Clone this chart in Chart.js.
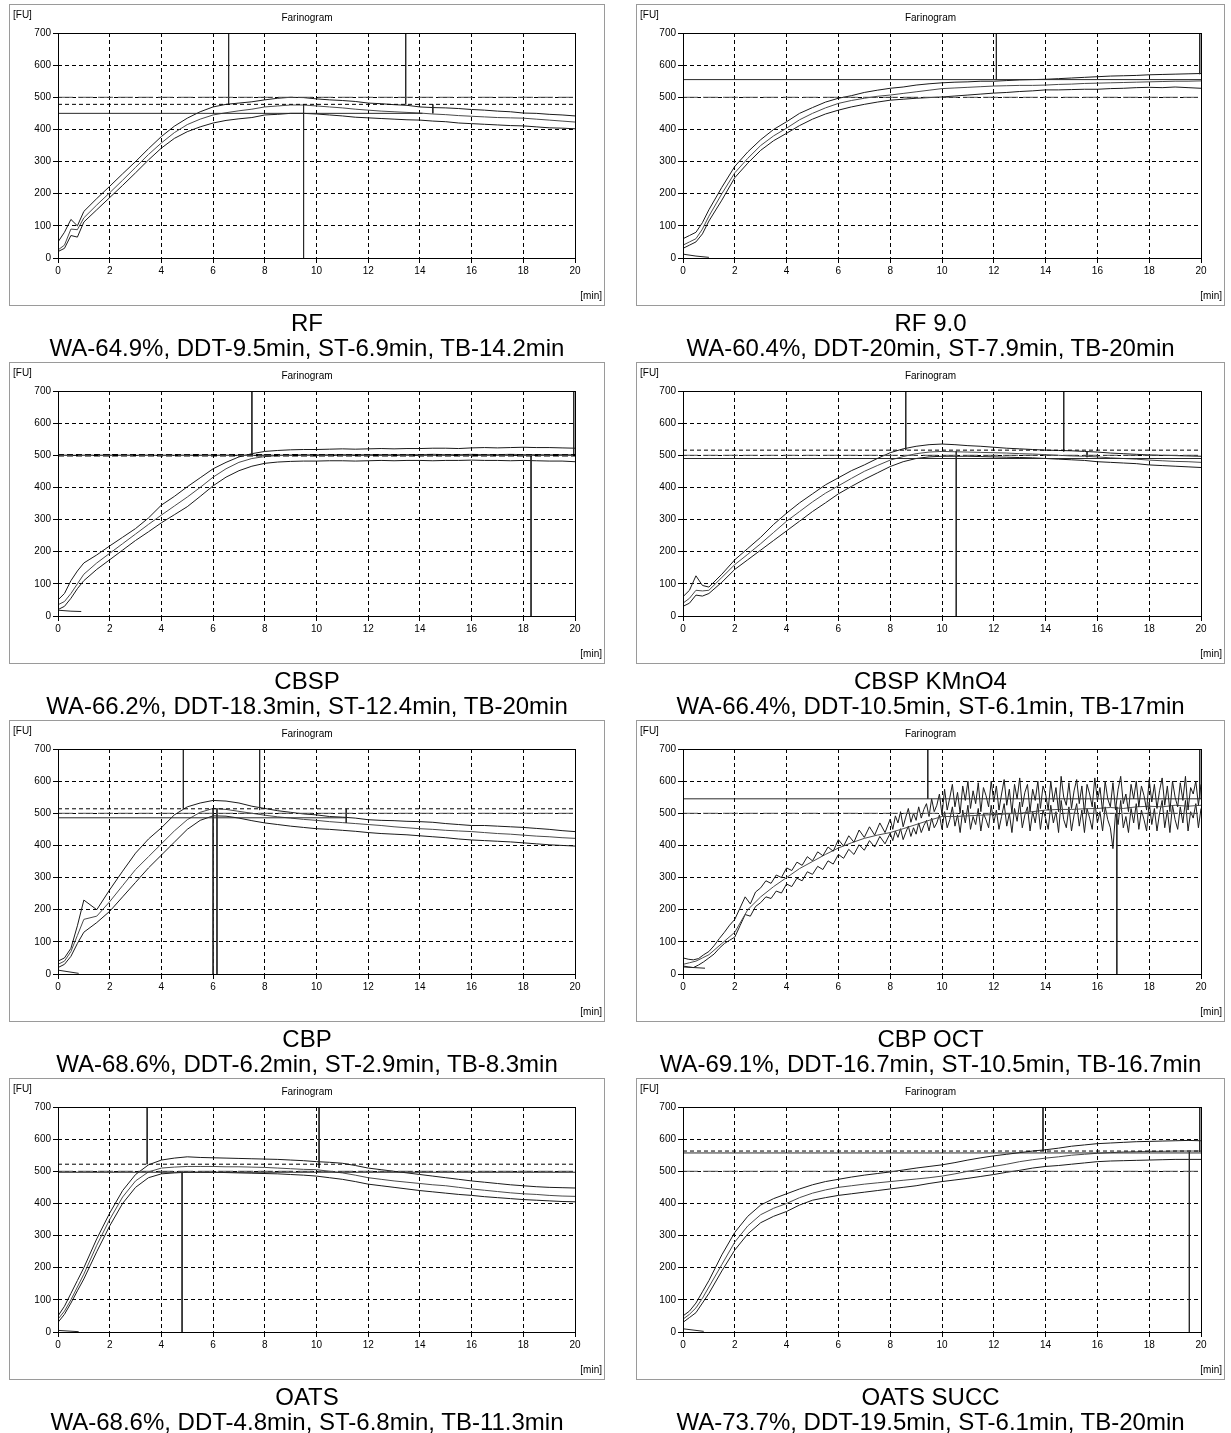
<!DOCTYPE html>
<html>
<head>
<meta charset="utf-8">
<title>Farinograms</title>
<script src="https://cdn.jsdelivr.net/npm/chart.js@4.4.1/dist/chart.umd.min.js"></script>
<style>
  body { margin: 0; background: #fff; width: 1231px; height: 1433px; position: relative; overflow: hidden;
         font-family: "Liberation Sans", Arial, sans-serif; color: #000; }
  .frame { position: absolute; border: 1px solid #9a9a9a; box-sizing: border-box; }
  .plot { position: absolute; }
  .small { position: absolute; font-size: 10px; line-height: 12px; white-space: nowrap; }
  .caption { position: absolute; text-align: center; font-size: 24px; line-height: 25px; white-space: nowrap; }
</style>
</head>
<body>
<script>
// sampling times (min) shared by most curves
const minutes = [0,0.25,0.5,0.75,1,1.5,2,2.5,3,3.5,4,4.5,5,5.5,6,6.5,7,7.5,8,8.5,9,9.5,10,10.5,11,11.5,12,12.5,13,13.5,14,14.5,15,15.5,16,16.5,17,17.5,18,18.5,19,19.5,20];
// denser times for the very noisy CBP OCT band
const octMinutes = [0,0.2,0.4,0.6,0.8,1,1.2,1.4,1.6,1.8,2,2.2,2.4,2.6,2.8,3,3.2,3.4,3.6,3.8,4,4.2,4.4,4.6,4.8,5,5.2,5.4,5.6,5.8,6,6.2,6.4,6.6,6.8,7,7.2,7.4,7.6,7.8,8,
  8.1,8.2,8.3,8.4,8.5,8.6,8.7,8.8,8.9,9,9.1,9.2,9.3,9.4,9.5,9.6,9.7,9.8,9.9,10,
  10.1,10.2,10.3,10.4,10.5,10.6,10.7,10.8,10.9,11,11.1,11.2,11.3,11.4,11.5,11.6,11.7,11.8,11.9,12,
  12.1,12.2,12.3,12.4,12.5,12.6,12.7,12.8,12.9,13,13.1,13.2,13.3,13.4,13.5,13.6,13.7,13.8,13.9,14,
  14.1,14.2,14.3,14.4,14.5,14.6,14.7,14.8,14.9,15,15.1,15.2,15.3,15.4,15.5,15.6,15.7,15.8,15.9,16,
  16.1,16.2,16.3,16.4,16.5,16.6,16.7,16.8,16.9,17,17.1,17.2,17.3,17.4,17.5,17.6,17.7,17.8,17.9,18,
  18.1,18.2,18.3,18.4,18.5,18.6,18.7,18.8,18.9,19,19.1,19.2,19.3,19.4,19.5,19.6,19.7,19.8,19.9,20];

const yTicks = [0,100,200,300,400,500,600,700];
const xTicks = [0,2,4,6,8,10,12,14,16,18,20];
const consistencyLine = 500;

// RF
const rfUpper = [50,80,120,100,145,185,223,262,300,340,378,410,435,455,470,478,482,486,492,497,500,499,495,492,490,487,482,480,477,475,470,468,467,465,462,460,457,455,451,450,447,445,442];
const rfMid   = [25,40,90,88,125,165,203,242,282,322,358,390,415,432,445,452,458,463,470,473,476,476,473,470,467,463,460,457,455,453,451,448,446,443,441,439,437,436,435,432,429,426,423];
const rfLower = [20,30,70,65,112,150,188,226,265,305,342,372,393,408,420,428,433,437,445,447,450,450,448,445,442,438,436,434,432,430,429,426,424,420,418,416,414,412,411,408,405,404,402];
const rfMarks = [[0,450,14.1,450],[6.6,700,6.6,478],[13.45,700,13.45,478],[9.5,478,9.5,0],[14.5,478,14.5,450]];
const rfDash = [478];
const rfTail = [];

// RF 9.0
const rf9Upper = [60,70,80,110,150,220,285,330,368,400,424,450,468,485,497,505,515,522,528,532,538,542,545,547,548,550,550,552,554,555,556,558,560,562,564,566,567,568,570,571,572,573,574];
const rf9Mid   = [40,50,60,90,130,200,265,310,350,380,404,430,450,467,481,490,497,503,507,512,517,522,527,529,531,533,535,536,537,537,538,540,541,543,544,545,546,547,548,549,550,550,551];
const rf9Lower = [30,40,50,75,115,180,250,295,335,365,388,412,432,448,460,470,478,485,491,494,497,499,501,504,507,510,513,515,518,520,523,523,524,525,525,527,528,530,531,530,532,530,528];
const rf9Marks = [[0,555,20,555],[12.1,700,12.1,555],[19.95,700,19.95,572]];
const rf9Dash = [];
const rf9Tail = [[0,12],[0.5,6],[1,2]];

// CBSP
const cbspUpper = [50,70,110,140,165,190,218,245,272,305,345,372,402,430,458,478,495,505,512,515,517,518,518,519,520,519,520,521,520,521,521,522,522,521,523,524,523,524,525,524,524,523,522];
const cbspMid   = [35,45,70,100,130,165,195,225,255,285,314,342,370,400,432,458,478,490,496,499,500,501,501,501,502,501,502,502,501,502,502,503,502,502,503,502,502,503,502,502,501,502,501];
const cbspLower = [20,30,55,85,110,145,175,205,235,262,290,315,340,372,405,432,452,466,475,479,481,482,482,483,483,482,483,484,483,484,484,483,484,484,485,484,484,483,484,483,482,482,480];
const cbspMarks = [[0,500,20,500],[7.5,700,7.5,500],[18.3,500,18.3,0],[19.95,700,19.95,500]];
const cbspDash = [500];
const cbspTail = [[0,18],[0.5,15],[0.9,14]];

// CBSP KMnO4
const kmnUpper = [60,80,125,95,90,130,175,210,245,285,320,352,380,408,430,452,470,490,508,520,528,533,535,533,530,528,525,522,520,518,516,515,514,512,510,507,505,503,501,500,499,498,497];
const kmnMid   = [40,55,80,78,80,120,160,192,225,260,295,325,355,382,405,428,450,468,485,496,505,510,512,511,510,509,508,507,505,504,502,500,498,497,495,492,490,488,485,483,481,480,478];
const kmnLower = [30,40,65,62,70,105,145,175,205,235,265,295,325,352,380,403,425,445,465,480,490,495,497,497,497,496,495,494,493,492,490,488,486,484,480,478,476,474,470,468,466,464,462];
const kmnMarks = [[0,490,20,490],[8.6,700,8.6,516],[14.7,700,14.7,512],[10.55,512,10.55,0],[15.6,512,15.6,494]];
const kmnDash = [516];
const kmnTail = [];

// CBP
const cbpUpper = [40,50,80,150,230,200,262,320,376,420,455,495,520,532,540,538,532,522,515,508,503,498,495,490,488,485,480,478,477,475,474,472,468,465,462,462,460,458,456,453,450,446,443];
const cbpMid   = [30,40,70,120,170,180,225,275,325,365,405,445,480,503,515,512,506,500,494,489,485,481,478,474,471,468,465,462,458,455,452,450,447,445,443,440,437,435,432,429,427,424,422];
const cbpLower = [20,30,55,95,130,160,195,240,285,330,370,410,450,478,492,491,485,477,470,465,460,456,452,450,447,444,440,437,435,433,430,427,424,420,417,415,413,411,408,405,402,400,398];
const cbpMarks = [[0,486,11.15,486],[4.85,700,4.85,514],[6.0,514,6.0,0],[6.15,514,6.15,0],[7.8,700,7.8,510],[11.15,514,11.15,470]];
const cbpDash = [514];
const cbpTail = [[0,12],[0.8,2]];

// CBP OCT
const octUpper = [50,46,44,48,60,70,88,110,130,152,170,205,240,218,255,268,290,282,308,300,330,322,348,338,365,352,380,368,395,382,418,398,430,410,448,425,458,432,470,440,482,
  450,492,470,505,458,488,515,472,500,478,520,485,512,530,490,545,505,525,560,495,
  575,510,548,590,520,565,500,585,540,600,515,570,530,595,505,580,555,520,600,535,
  585,510,560,605,525,575,500,590,545,610,520,565,590,505,575,540,600,515,585,560,
  510,600,535,580,505,615,550,525,595,515,570,605,530,585,500,590,560,520,610,540,
  580,505,600,545,520,595,510,575,615,530,560,505,590,545,600,520,585,555,510,605,
  535,590,515,570,610,525,585,505,600,550,520,595,540,615,510,580,560,600,525,590];
const octMid   = [30,35,40,50,60,95,130,200,240,272,300,328,350,372,392,408,422,432,440,452,465,478,490,490,492,494,496,498,500,505,510,512,512,514,515,518,515,520,522,520,525,522,525];
const octLower = [25,22,20,28,38,50,62,80,95,105,115,150,185,180,210,222,240,235,258,252,280,272,298,290,318,310,335,325,352,342,372,360,388,372,402,385,415,395,428,405,438,
  415,445,425,452,418,440,460,428,455,435,470,440,462,478,445,485,455,470,495,450,
  505,455,480,520,460,495,440,510,470,525,450,490,465,515,445,500,480,455,525,470,
  510,450,490,530,460,500,440,515,475,535,455,495,520,445,505,470,530,450,510,485,
  450,525,470,505,440,540,480,455,520,445,495,530,460,510,440,515,485,450,535,470,
  505,445,520,480,455,390,500,465,540,455,490,440,515,470,530,450,510,480,445,535,
  465,515,445,500,540,455,510,440,525,480,450,520,470,540,445,505,485,530,455,515];
const octMarks = [[0,545,20,545],[9.45,700,9.45,545],[16.75,520,16.75,0],[19.95,700,19.95,545]];
const octDash = [];
const octTail = [[0,22],[0.85,18]];

// OATS
const oatsUpper = [50,80,120,160,200,290,370,440,490,520,535,541,545,543,542,541,540,539,538,537,535,533,530,528,525,518,510,505,500,495,490,485,480,475,470,466,462,458,455,452,450,449,448];
const oatsMid   = [40,65,100,140,180,270,350,420,470,498,510,513,515,515,515,514,514,513,512,510,508,506,505,500,495,488,480,475,470,466,462,458,455,450,445,441,437,433,430,428,425,423,422];
const oatsLower = [30,55,90,128,165,250,330,400,450,480,492,495,497,497,497,496,495,494,493,492,490,488,485,480,475,468,460,455,450,445,440,436,432,428,425,421,418,415,412,410,408,406,405];
const oatsMarks = [[0,497,20,497],[3.45,700,3.45,522],[10.1,700,10.1,510],[4.8,500,4.8,0]];
const oatsDash = [522];
const oatsTail = [[0,5],[0.8,1]];

// OATS SUCC
const succUpper = [50,65,90,125,160,240,310,360,395,415,430,445,458,468,475,482,488,493,498,504,510,515,520,527,535,542,548,553,558,563,567,572,578,582,586,588,590,592,593,594,595,596,595];
const succMid   = [40,55,75,105,140,210,280,330,365,385,400,418,432,442,450,455,460,464,468,472,476,480,485,492,500,507,515,522,530,536,541,545,550,553,556,558,560,561,562,562,563,563,563];
const succLower = [30,45,60,90,120,190,255,305,340,360,375,395,410,418,425,430,435,440,445,450,455,462,468,473,478,484,490,497,503,510,515,518,522,526,530,532,533,534,535,536,537,537,537];
const succMarks = [[0,557,20,557],[13.9,700,13.9,563],[19.55,560,19.55,0],[19.95,700,19.95,560]];
const succDash = [563];
const succTail = [[0,10],[0.8,2]];

const panels = [
  {name: 'RF', info: 'WA-64.9%, DDT-9.5min, ST-6.9min, TB-14.2min',
   curves: [[minutes, rfUpper], [minutes, rfMid], [minutes, rfLower]], marks: rfMarks, dash: rfDash, tail: rfTail},
  {name: 'RF 9.0', info: 'WA-60.4%, DDT-20min, ST-7.9min, TB-20min',
   curves: [[minutes, rf9Upper], [minutes, rf9Mid], [minutes, rf9Lower]], marks: rf9Marks, dash: rf9Dash, tail: rf9Tail},
  {name: 'CBSP', info: 'WA-66.2%, DDT-18.3min, ST-12.4min, TB-20min',
   curves: [[minutes, cbspUpper], [minutes, cbspMid], [minutes, cbspLower]], marks: cbspMarks, dash: cbspDash, tail: cbspTail, heavyDash: true},
  {name: 'CBSP KMnO4', info: 'WA-66.4%, DDT-10.5min, ST-6.1min, TB-17min',
   curves: [[minutes, kmnUpper], [minutes, kmnMid], [minutes, kmnLower]], marks: kmnMarks, dash: kmnDash, tail: kmnTail},
  {name: 'CBP', info: 'WA-68.6%, DDT-6.2min, ST-2.9min, TB-8.3min',
   curves: [[minutes, cbpUpper], [minutes, cbpMid], [minutes, cbpLower]], marks: cbpMarks, dash: cbpDash, tail: cbpTail},
  {name: 'CBP OCT', info: 'WA-69.1%, DDT-16.7min, ST-10.5min, TB-16.7min',
   curves: [[octMinutes, octUpper], [minutes, octMid], [octMinutes, octLower]], marks: octMarks, dash: octDash, tail: octTail},
  {name: 'OATS', info: 'WA-68.6%, DDT-4.8min, ST-6.8min, TB-11.3min',
   curves: [[minutes, oatsUpper], [minutes, oatsMid], [minutes, oatsLower]], marks: oatsMarks, dash: oatsDash, tail: oatsTail},
  {name: 'OATS SUCC', info: 'WA-73.7%, DDT-19.5min, ST-6.1min, TB-20min',
   curves: [[minutes, succUpper], [minutes, succMid], [minutes, succLower]], marks: succMarks, dash: succDash, tail: succTail}
];

// page layout of the 2 x 4 grid
const frameLeft = [9, 636];
const frameWidth = [596, 589];
const plotLeft = [49, 47];
const plotRight = [566, 565];
const frameHeight = 302;
const rowStep = 358;

Chart.defaults.font.family = '"Liberation Sans", Arial, sans-serif';
Chart.defaults.font.size = 10;
Chart.defaults.color = '#000';

// solid box round the plot area
const plotFrame = {
  id: 'plotFrame',
  afterDatasetsDraw(chart) {
    const a = chart.chartArea, ctx = chart.ctx;
    ctx.save();
    ctx.strokeStyle = '#000';
    ctx.lineWidth = 1;
    ctx.strokeRect(Math.round(a.left) + 0.5, Math.round(a.top) + 0.5,
                   Math.round(a.right - a.left), Math.round(a.bottom - a.top));
    ctx.restore();
  }
};

function pts(xs, ys) {
  return xs.map((x, i) => ({x: x, y: ys[i]}));
}

function addText(cls, text, css) {
  const d = document.createElement('div');
  d.className = cls;
  d.textContent = text;
  Object.assign(d.style, css);
  document.body.appendChild(d);
  return d;
}

panels.forEach((p, i) => {
  const col = i % 2, row = Math.floor(i / 2);
  const left = frameLeft[col], top = 4 + row * rowStep, w = frameWidth[col], h = frameHeight;

  const frame = document.createElement('div');
  frame.className = 'frame';
  Object.assign(frame.style, {left: left + 'px', top: top + 'px', width: w + 'px', height: h + 'px'});
  document.body.appendChild(frame);

  const cv = document.createElement('canvas');
  cv.className = 'plot';
  cv.width = w;
  cv.height = h;
  Object.assign(cv.style, {left: left + 'px', top: top + 'px', width: w + 'px', height: h + 'px'});
  document.body.appendChild(cv);

  addText('small', '[FU]', {left: (left + 4) + 'px', top: (top + 5) + 'px'});
  addText('small', 'Farinogram', {left: left + 'px', width: w + 'px', textAlign: 'center', top: (top + 8) + 'px'});
  addText('small', '[min]', {left: left + 'px', width: (w - 3) + 'px', textAlign: 'right', top: (top + 286) + 'px'});

  const cap = addText('caption', '', {left: left + 'px', width: w + 'px', top: (310 + row * rowStep) + 'px'});
  cap.appendChild(document.createTextNode(p.name));
  cap.appendChild(document.createElement('br'));
  cap.appendChild(document.createTextNode(p.info));

  const ds = [];
  ds.push({data: [{x: 0, y: consistencyLine}, {x: 20, y: consistencyLine}], borderColor: '#555', borderDash: [15, 5]});
  p.dash.forEach(v => ds.push({data: [{x: 0, y: v}, {x: 20, y: v}], borderColor: '#000',
                               borderDash: p.heavyDash ? [6, 3] : [4, 3], borderWidth: p.heavyDash ? 2.5 : 1}));
  p.marks.forEach(m => ds.push({data: [{x: m[0], y: m[1]}, {x: m[2], y: m[3]}], borderColor: '#2a2a2a'}));
  if (p.tail.length) ds.push({data: p.tail.map(t => ({x: t[0], y: t[1]})), borderColor: '#222'});
  p.curves.forEach((c, k) => ds.push({data: pts(c[0], c[1]), borderColor: k === 1 ? '#4a4a4a' : '#1a1a1a'}));
  ds.forEach(d => { d.pointRadius = 0; d.borderWidth = d.borderWidth || 1; d.tension = 0; d.fill = false; });

  new Chart(cv, {
    type: 'line',
    data: {datasets: ds},
    options: {
      responsive: false,
      animation: false,
      events: [],
      layout: {padding: {left: 0, top: 29, right: w - plotRight[col], bottom: h - 254 - 20}},
      plugins: {legend: {display: false}, tooltip: {enabled: false}},
      scales: {
        x: {
          type: 'linear', min: 0, max: 20,
          afterBuildTicks: s => { s.ticks = xTicks.map(v => ({value: v})); },
          afterFit: s => { s.height = 20; },
          ticks: {maxRotation: 0, autoSkip: false, padding: 2, font: {size: 10}},
          grid: {color: '#000', lineWidth: 1, tickLength: 5, tickColor: '#000'},
          border: {display: false, dash: [4, 3]}
        },
        y: {
          min: 0, max: 700,
          afterBuildTicks: s => { s.ticks = yTicks.map(v => ({value: v})); },
          afterFit: s => { s.width = plotLeft[col]; },
          ticks: {padding: 2, font: {size: 10}},
          grid: {color: '#000', lineWidth: 1, tickLength: 5, tickColor: '#000'},
          border: {display: false, dash: [4, 3]}
        }
      }
    },
    plugins: [plotFrame]
  });
});
</script>
</body>
</html>
